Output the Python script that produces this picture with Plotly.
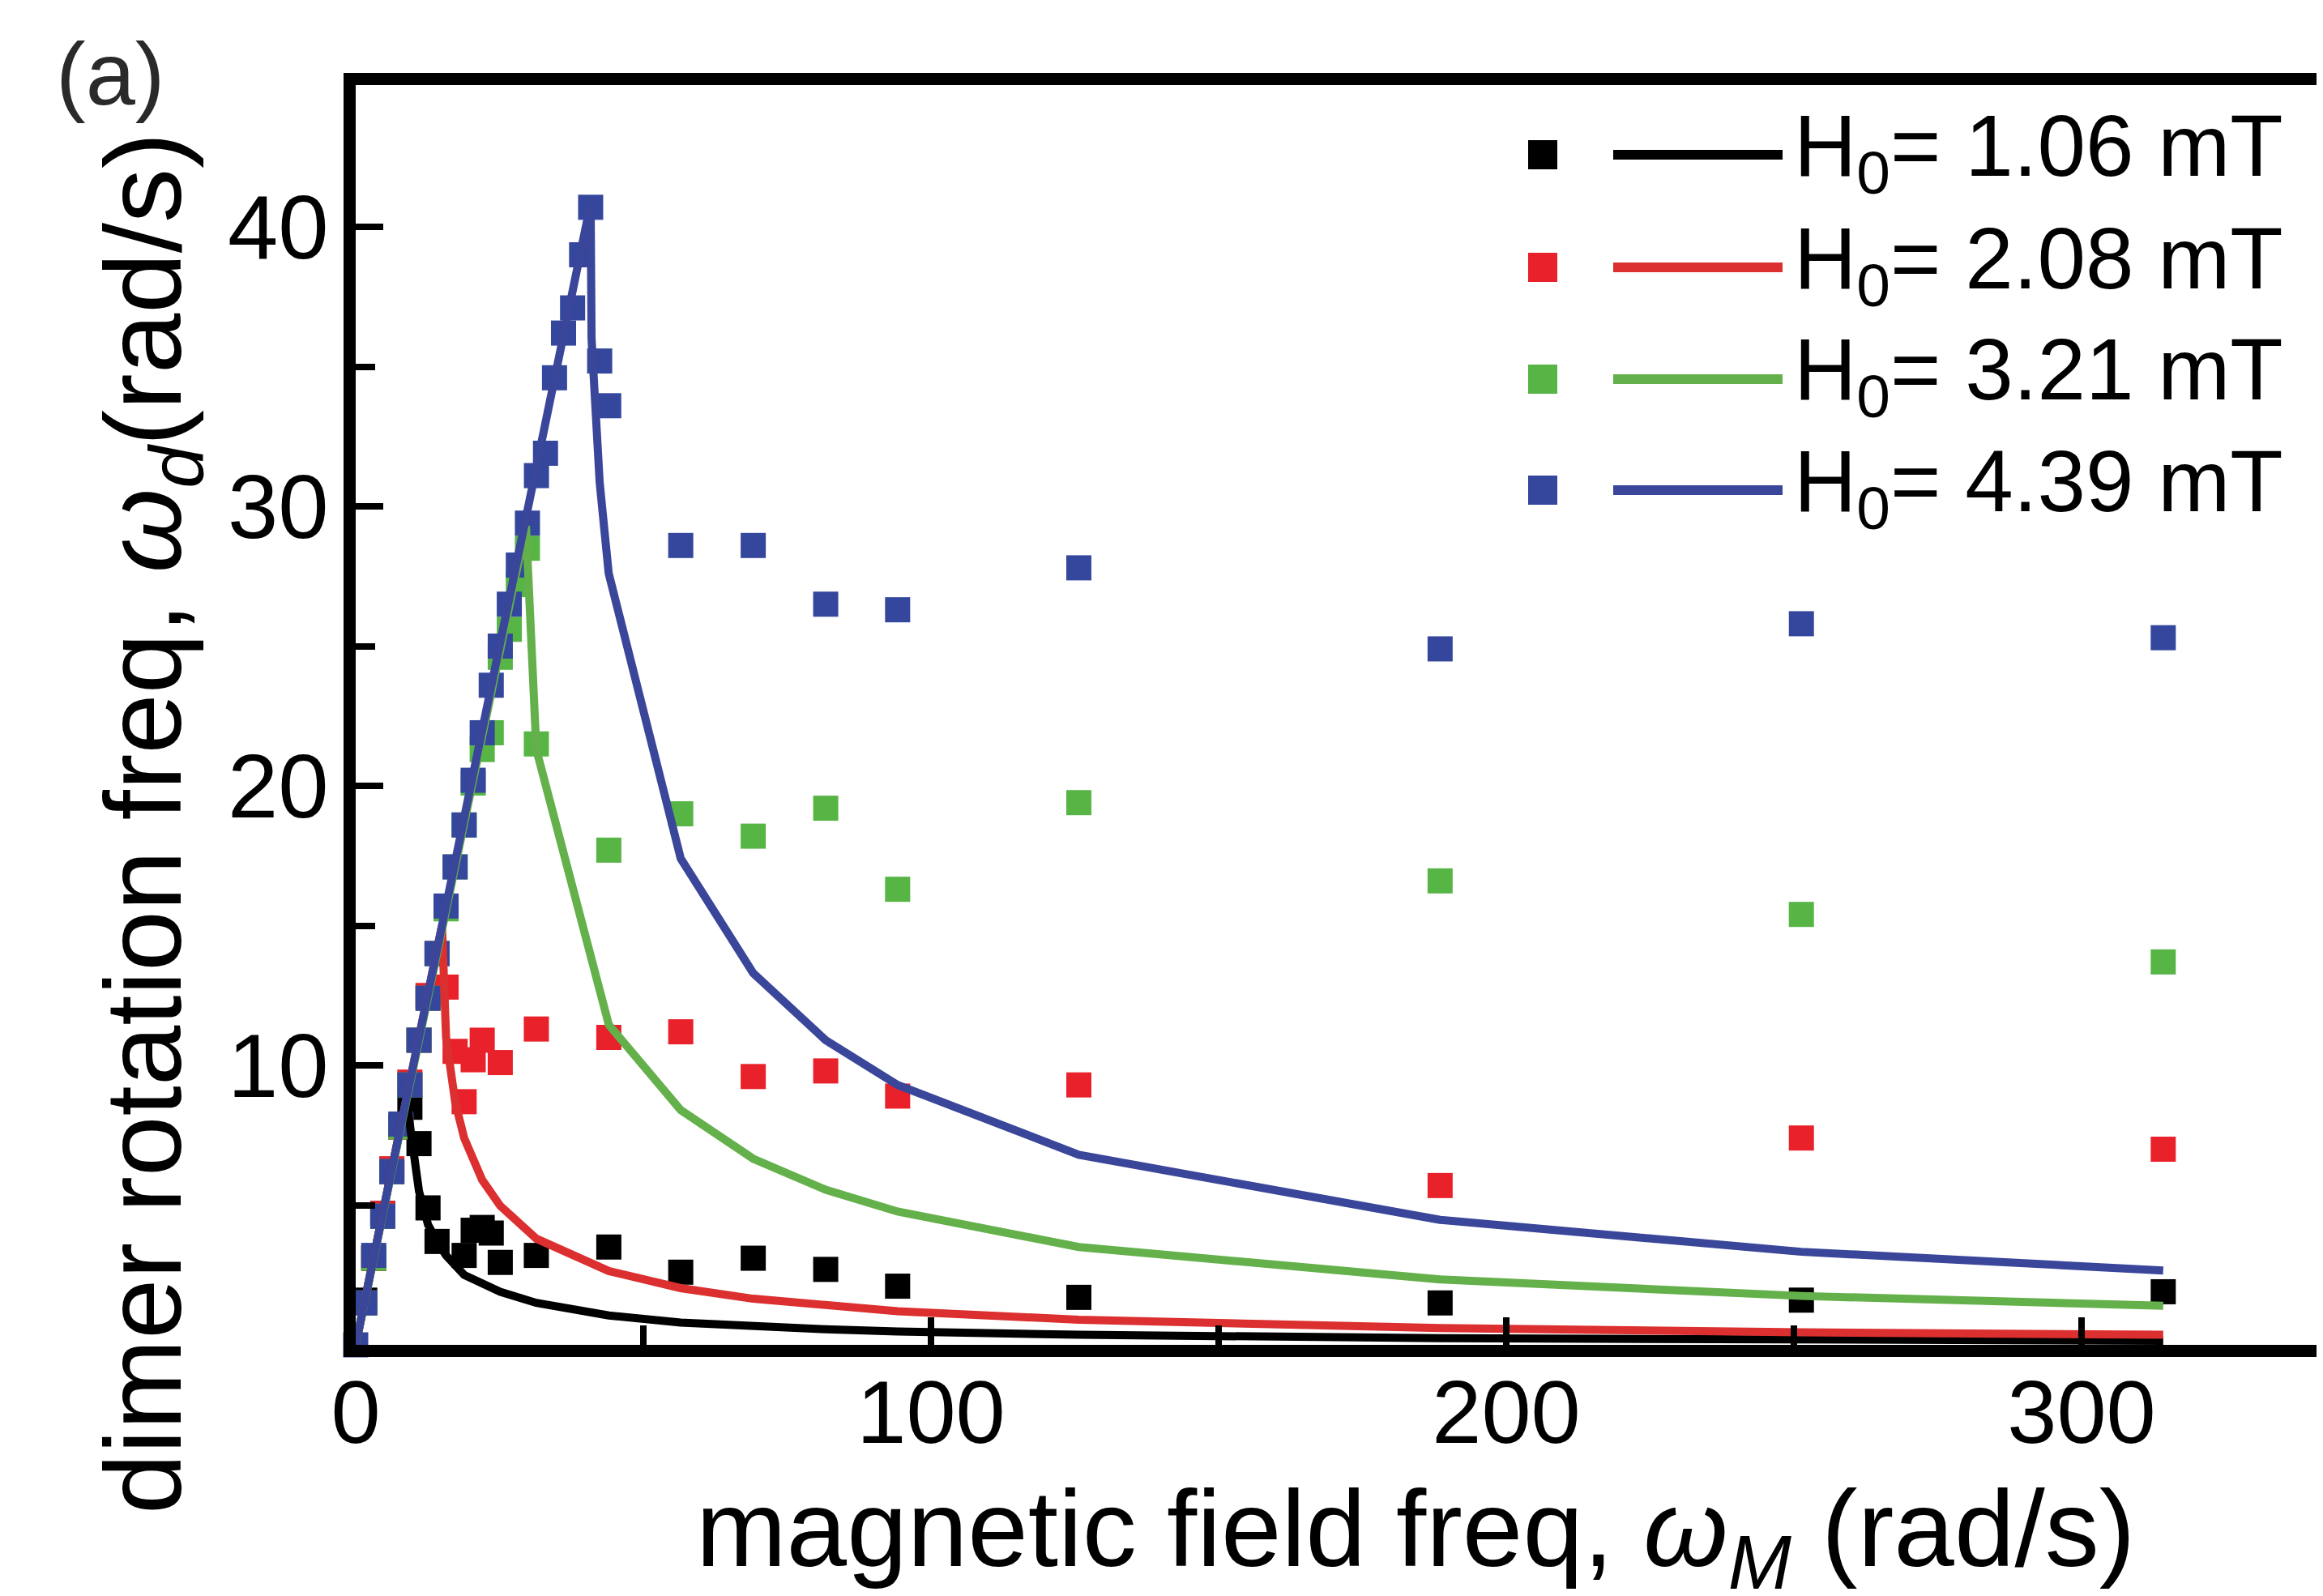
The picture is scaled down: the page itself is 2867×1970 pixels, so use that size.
import plotly.graph_objects as go

# ---------------- data ----------------
# measured points (rad/s)
black_x = [1.57, 3.14, 4.71, 6.28, 7.85, 9.42, 11.0, 12.57, 14.14, 18.85, 20.42, 21.99, 23.56, 25.13,
           31.4, 44.0, 56.5, 69.1, 81.7, 94.2, 125.7, 188.5, 251.3, 314.2]
black_y = [1.6, 3.1, 4.7, 6.2, 7.8, 8.5, 7.2, 4.9, 3.7, 3.2, 4.1, 4.2, 4.0, 2.95,
           3.2, 3.5, 2.6, 3.1, 2.7, 2.1, 1.7, 1.5, 1.6, 1.9]

red_x = [1.57, 3.14, 4.71, 6.28, 7.85, 9.42, 11.0, 12.57, 14.14, 15.71, 17.28, 18.85, 20.42, 21.99, 25.13,
         31.4, 44.0, 56.5, 69.1, 81.7, 94.2, 125.7, 188.5, 251.3, 314.2]
red_y = [1.5, 3.1, 4.7, 6.3, 7.8, 9.4, 10.9, 12.5, 14.0, 12.8, 10.5, 8.7, 10.2, 10.9, 10.1,
         11.3, 11.0, 11.2, 9.6, 9.8, 8.9, 9.3, 5.7, 7.4, 7.0]

green_x = [1.57, 3.14, 4.71, 6.28, 7.85, 9.42, 11.0, 12.57, 14.14, 15.71, 17.28, 18.85, 20.42, 21.99,
           23.56, 25.13, 26.70, 28.27, 29.85, 31.4, 44.0, 56.5, 69.1, 81.7, 94.2, 125.7, 188.5, 251.3, 314.2]
green_y = [1.5, 3.1, 4.6, 6.2, 7.8, 9.3, 10.9, 12.4, 14.0, 15.6, 17.1, 18.6, 20.1, 21.3,
           21.9, 24.6, 25.6, 27.2, 28.5, 21.5, 17.7, 19.0, 18.2, 19.2, 16.3, 19.4, 16.6, 15.4, 13.7]

blue_x = [0.0, 1.57, 3.14, 4.71, 6.28, 7.85, 9.42, 11.0, 12.57, 14.14, 15.71, 17.28, 18.85, 20.42, 21.99,
          23.56, 25.13, 26.70, 28.27, 29.85, 31.42, 32.99, 34.56, 36.13, 37.70, 39.27, 40.84, 42.41, 43.98,
          56.5, 69.1, 81.7, 94.2, 125.7, 188.5, 251.3, 314.2]
blue_y = [0.0, 1.5, 3.2, 4.6, 6.2, 7.9, 9.3, 10.9, 12.4, 14.0, 15.7, 17.1, 18.6, 20.2, 21.9,
          23.6, 25.0, 26.5, 27.9, 29.4, 31.1, 31.9, 34.6, 36.2, 37.1, 39.0, 40.7, 35.2, 33.6,
          28.6, 28.6, 26.5, 26.3, 27.8, 24.9, 25.8, 25.3]

# model curves
black_fx = [0.0, 8.8, 11.0, 12.57, 14.14, 15.71, 18.85, 21.99, 25.13, 31.4, 44.0, 56.5, 69.1, 81.7, 94.2,
            125.7, 188.5, 251.3, 314.2]
black_fy = [0.0, 8.8, 5.5, 4.3, 3.7, 3.2, 2.5, 2.2, 1.9, 1.5, 1.05, 0.8, 0.66, 0.56, 0.48,
            0.36, 0.24, 0.18, 0.145]

red_fx = [0.0, 15.0, 15.71, 17.28, 18.85, 20.42, 21.99, 25.13, 31.4, 44.0, 56.5, 69.1, 81.7, 94.2,
          125.7, 188.5, 251.3, 314.2]
red_fy = [0.0, 15.0, 11.0, 8.7, 7.4, 6.6, 5.9, 4.97, 3.8, 2.64, 2.03, 1.65, 1.39, 1.2,
          0.9, 0.6, 0.45, 0.36]

green_fx = [0.0, 29.6, 31.4, 44.0, 56.5, 69.1, 81.7, 94.2, 125.7, 188.5, 251.3, 314.2]
green_fy = [0.0, 29.3, 21.3, 11.45, 8.4, 6.66, 5.55, 4.77, 3.5, 2.34, 1.75, 1.4]

blue_fx = [0.0, 40.84, 41.0, 42.41, 43.98, 56.5, 69.1, 81.7, 94.2, 125.7, 188.5, 251.3, 314.2]
blue_fy = [0.0, 40.84, 36.0, 30.85, 27.6, 17.4, 13.3, 10.9, 9.3, 6.8, 4.47, 3.33, 2.66]

legend_labels = ["H<sub>0</sub>= 1.06 mT", "H<sub>0</sub>= 2.08 mT",
                 "H<sub>0</sub>= 3.21 mT", "H<sub>0</sub>= 4.39 mT"]

x_ticks = [0, 100, 200, 300]
x_minor = [50, 150, 250]
y_ticks = [10, 20, 30, 40]
y_minor = [5, 15, 25, 35]

# ---------------- styling ----------------
mk_colors = ["#000000", "#E8212A", "#57B546", "#34479C"]
ln_colors = ["#000000", "#DC2F2F", "#64B04B", "#3A4699"]
FONT = "Liberation Sans, Arial, Helvetica, sans-serif"

W, H = 2867, 1970
L, R, T, B = 431, 0, 97, 318
PW, PH = W - L - R, H - T - B


def px(x):
    return (x - L) / PW


def py(y):
    return (H - B - y) / PH


fig = go.Figure()

pts = [(black_x, black_y), (red_x, red_y), (green_x, green_y), (blue_x, blue_y)]
fits = [(black_fx, black_fy), (red_fx, red_fy), (green_fx, green_fy), (blue_fx, blue_fy)]

for (xs, ys), c in zip(pts, mk_colors):
    fig.add_trace(go.Scatter(x=xs, y=ys, mode="markers",
                             marker=dict(symbol="square", size=31, color=c, line=dict(width=0)),
                             cliponaxis=False, showlegend=False, hoverinfo="skip"))
for (xs, ys), c in zip(fits, ln_colors):
    fig.add_trace(go.Scatter(x=xs, y=ys, mode="lines",
                             line=dict(color=c, width=10),
                             cliponaxis=False, showlegend=False, hoverinfo="skip"))

# ---------------- manual legend ----------------
shapes = []
annotations = []
rows = [183, 322, 460, 597]
for r, mc, lc, lab in zip(rows, mk_colors, ln_colors, legend_labels):
    shapes.append(dict(type="rect", xref="paper", yref="paper",
                       x0=px(1896 - 18), x1=px(1896 + 18), y0=py(r + 18), y1=py(r - 18),
                       fillcolor=mc, line=dict(width=0)))
    shapes.append(dict(type="line", xref="paper", yref="paper",
                       x0=px(1983), x1=px(2192), y0=py(r), y1=py(r),
                       line=dict(color=lc, width=12)))
    annotations.append(dict(xref="paper", yref="paper", x=px(2204), y=py(r - 4),
                            xanchor="left", yanchor="middle", showarrow=False,
                            text=lab, font=dict(family=FONT, size=107, color="black")))

# panel label and axis titles
annotations.append(dict(xref="paper", yref="paper", x=px(128), y=py(82),
                        xanchor="center", yanchor="middle", showarrow=False,
                        text="(a)", font=dict(family=FONT, size=110, color="#2a2a2a")))
annotations.append(dict(xref="paper", yref="paper", x=px(178), y=py(1008),
                        xanchor="center", yanchor="middle", showarrow=False, textangle=-90,
                        text="dimer rotation freq, <i>ω</i><sub><i>d</i></sub>(rad/s)",
                        font=dict(family=FONT, size=134, color="black")))
annotations.append(dict(xref="paper", yref="paper", x=px(1739), y=py(1888),
                        xanchor="center", yanchor="middle", showarrow=False,
                        text="magnetic field freq, <i>ω</i><sub><i>M</i></sub> (rad/s)",
                        font=dict(family=FONT, size=134, color="black")))

fig.update_layout(
    width=W, height=H,
    margin=dict(l=L, r=R, t=T, b=B, pad=0),
    paper_bgcolor="white", plot_bgcolor="white",
    showlegend=False,
    shapes=shapes, annotations=annotations,
    font=dict(family=FONT, color="black"),
)

fig.update_xaxes(range=[0, PW / 7.1], showline=True, linewidth=15, linecolor="black", mirror=True,
                 showgrid=False, zeroline=False,
                 tickmode="array", tickvals=x_ticks, ticktext=[str(v) for v in x_ticks],
                 ticks="inside", ticklen=34, tickwidth=8, tickcolor="black",
                 tickfont=dict(family=FONT, size=110, color="black"), ticklabelstandoff=-26,
                 minor=dict(tickmode="array", tickvals=x_minor, ticks="inside", ticklen=24,
                            tickwidth=8, tickcolor="black", showgrid=False))
fig.update_yaxes(range=[0, PH / 34.5], showline=True, linewidth=15, linecolor="black", mirror=False,
                 showgrid=False, zeroline=False,
                 tickmode="array", tickvals=y_ticks, ticktext=[str(v) for v in y_ticks],
                 ticks="inside", ticklen=34, tickwidth=8, tickcolor="black",
                 tickfont=dict(family=FONT, size=112, color="black"), ticklabelstandoff=-4,
                 minor=dict(tickmode="array", tickvals=y_minor, ticks="inside", ticklen=24,
                            tickwidth=8, tickcolor="black", showgrid=False))

fig.write_html("out.html")
